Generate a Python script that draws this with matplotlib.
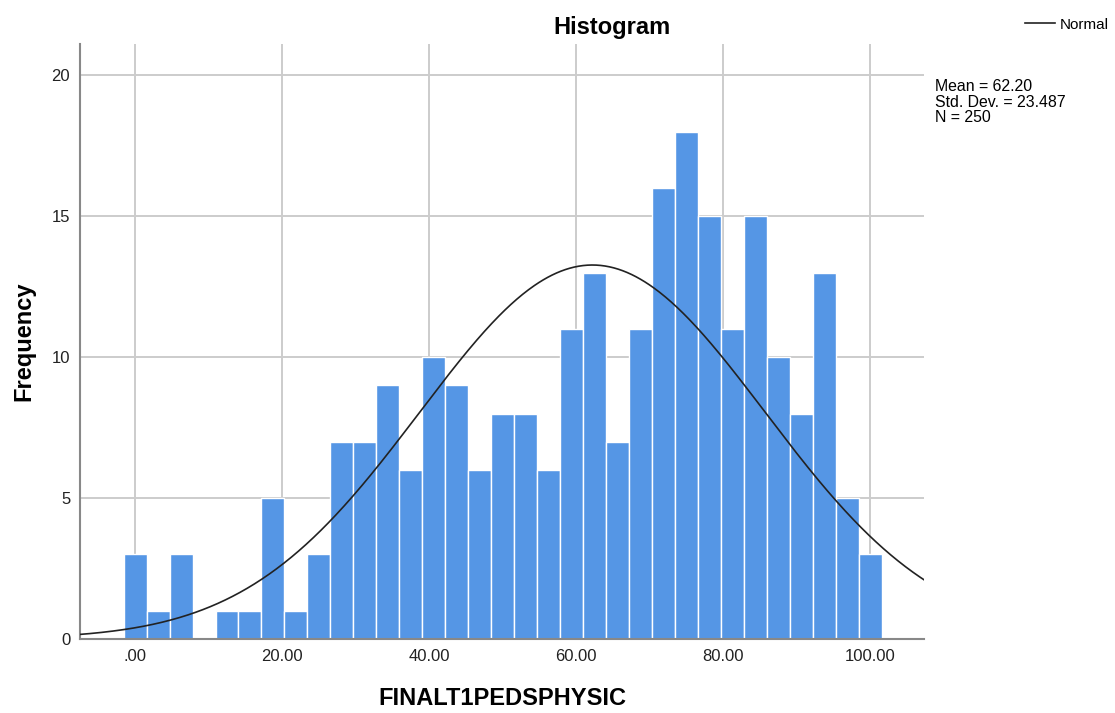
import numpy as np
import matplotlib.pyplot as plt

plt.rcParams['font.family'] = ['Liberation Sans', 'DejaVu Sans']

# frequency per bin (bin width 3.125, first bin starts at -1.5625)
counts = [3, 1, 3, 0, 1, 1, 5, 1, 3, 7,
          7, 9, 6, 10, 9, 6, 8, 8, 6, 11,
          13, 7, 11, 16, 18, 15, 11, 15, 10, 8,
          13, 5, 3]
bin_start = -1.5625
bin_width = 3.125
mean = 62.20
sd = 23.487
n = 250
xticks = [0, 20, 40, 60, 80, 100]
xticklabels = ['.00', '20.00', '40.00', '60.00', '80.00', '100.00']
yticks = [0, 5, 10, 15, 20]

fig = plt.figure(figsize=(11.15, 7.13), dpi=100)
ax = fig.add_axes([0.0717, 0.1038, 0.757, 0.834])

lefts = bin_start + bin_width * np.arange(len(counts))
ax.bar(lefts, counts, width=bin_width, align='edge', color='#5596e5',
       edgecolor='white', linewidth=1.0, zorder=2)

# normal curve scaled to counts
xs = np.linspace(-10, 110, 600)
ys = n * bin_width / (sd * np.sqrt(2 * np.pi)) * np.exp(-0.5 * ((xs - mean) / sd) ** 2)
line, = ax.plot(xs, ys, color='#222222', linewidth=1.2, zorder=3)

ax.set_xlim(-7.5, 107.3)
ax.set_ylim(0, 21.1)
ax.set_xticks(xticks)
ax.set_xticklabels(xticklabels)
ax.set_yticks(yticks)
ax.tick_params(length=0, labelsize=12, pad=7, colors='#222222')
ax.grid(True, color='#cccccc', linewidth=1.4, zorder=0)
ax.set_axisbelow(True)
for s in ['top', 'right']:
    ax.spines[s].set_visible(False)
for s in ['left', 'bottom']:
    ax.spines[s].set_color('#888888')
    ax.spines[s].set_linewidth(1.5)

fig.text(0.549, 0.962, 'Histogram', fontsize=17, fontweight='bold',
         ha='center', va='center')
ax.set_xlabel('FINALT1PEDSPHYSIC', fontsize=17, fontweight='bold', labelpad=17)
ax.set_ylabel('Frequency', fontsize=17, fontweight='bold', labelpad=12)

fig.legend([line], ['Normal'], loc='upper right', bbox_to_anchor=(1.004, 0.99),
           frameon=False, fontsize=11, handlelength=2.0, handletextpad=0.3,
           borderaxespad=0.3)
fig.text(0.8385, 0.889, 'Mean = %.2f\nStd. Dev. = %.3f\nN = %d' % (mean, sd, n),
         fontsize=11.4, va='top', ha='left', linespacing=1.05)

fig.savefig('out.png', dpi=100)
